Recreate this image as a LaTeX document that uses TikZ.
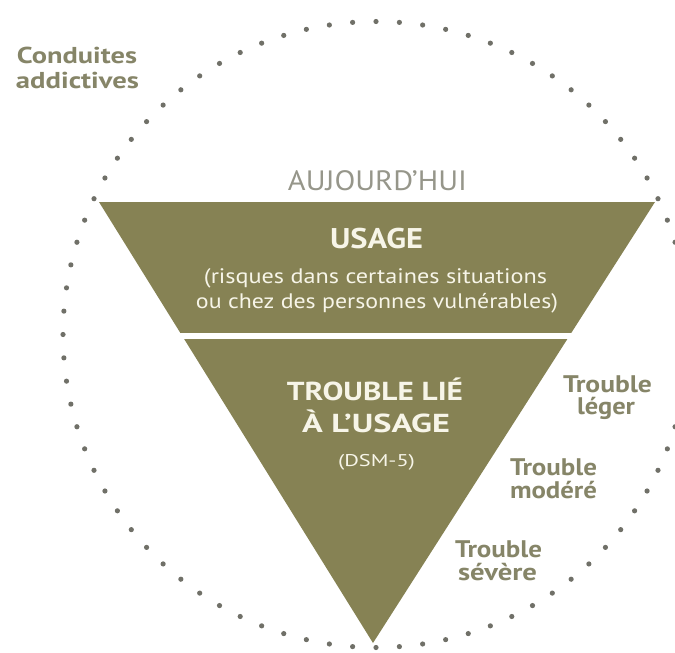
\documentclass[tikz,border=0pt]{standalone}
\usepackage{fontspec}
\usepackage{graphicx}
\setmainfont{PT Sans}
\usetikzlibrary{calc}
\definecolor{trifill}{RGB}{134,130,84}
\definecolor{tritext}{RGB}{247,245,232}
\definecolor{labelc}{RGB}{134,133,104}
\definecolor{dotc}{RGB}{112,112,104}
\definecolor{todayc}{RGB}{150,150,138}
\newcommand{\fitw}[2]{\resizebox{#1}{\height}{#2}}
\tikzset{
  intext/.style={text=tritext, inner sep=0pt, anchor=base},
  outlabel/.style={text=labelc, inner sep=0pt, anchor=base, font=\fontsize{24}{24}\selectfont\bfseries},
  dotmark/.style={fill=dotc, draw=none},
}
\begin{document}
\begin{tikzpicture}[x=1pt,y=-1pt]
\useasboundingbox (0,0) rectangle (675,653);
\clip (0,0) rectangle (675,653);
% dotted circle
\foreach \i in {0,...,83}{
  \pgfmathsetmacro{\ang}{90+\i*4.285714}
  \fill[dotmark] ({376+313*cos(\ang)},{334.5+313*sin(\ang)}) circle (2.6pt);
}
% triangle
\coordinate (TL) at (99,202);
\coordinate (TR) at (655,202);
\coordinate (AP) at (373,643);
\coordinate (UL) at ($(TL)!0.297!(AP)$);
\coordinate (UR) at ($(TR)!0.297!(AP)$);
\coordinate (LL) at ($(TL)!0.3107!(AP)$);
\coordinate (LR) at ($(TR)!0.3107!(AP)$);
\fill[trifill] (TL) -- (TR) -- (UR) -- (UL) -- cycle;
\fill[trifill] (LL) -- (LR) -- (AP) -- cycle;
% texts
\node[text=todayc, inner sep=0pt, anchor=base, font=\fontsize{28}{28}\selectfont] (today) at (377.5,190) {\fitw{179pt}{AUJOURD'HUI}};
\node[intext, font=\fontsize{28.5}{28}\selectfont\bfseries] (usage) at (376.5,248) {\fitw{93pt}{USAGE}};
\node[intext, font=\fontsize{21}{20}\selectfont] (usage1) at (375.5,283) {\fitw{343pt}{(risques dans certaines situations}};
\node[intext, font=\fontsize{21}{20}\selectfont] (usage2) at (377,308) {\fitw{362pt}{ou chez des personnes vulnérables)}};
\node[intext, font=\fontsize{26}{26}\selectfont\bfseries] (trouble1) at (375,400) {\fitw{176pt}{TROUBLE LIÉ}};
\node[intext, font=\fontsize{26}{26}\selectfont\bfseries] (trouble2) at (376,432) {\fitw{148pt}{À L'USAGE}};
\node[intext, font=\fontsize{17}{17}\selectfont] (dsm) at (376.5,466) {\fitw{77pt}{(DSM-5)}};
\node[outlabel, font=\fontsize{23}{23}\selectfont\bfseries] (cond1) at (77,63) {\fitw{120pt}{Conduites}};
\node[outlabel, font=\fontsize{23}{23}\selectfont\bfseries] (cond2) at (77.5,88) {\fitw{123pt}{addictives}};
\node[outlabel] (leger1) at (607.5,392) {\fitw{89pt}{Trouble}};
\node[outlabel] (leger2) at (606,414) {\fitw{58pt}{léger}};
\node[outlabel] (modere1) at (553.5,475) {\fitw{87pt}{Trouble}};
\node[outlabel] (modere2) at (553.5,498) {\fitw{87pt}{modéré}};
\node[outlabel] (severe1) at (498.5,557) {\fitw{87pt}{Trouble}};
\node[outlabel] (severe2) at (497.5,580) {\fitw{79pt}{sévère}};
\end{tikzpicture}
\end{document}
